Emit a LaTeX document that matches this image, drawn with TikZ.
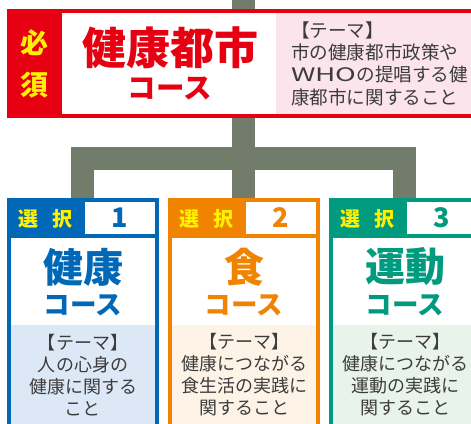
\documentclass[tikz,border=0pt]{standalone}
\usepackage{fontspec}
\usepackage{graphicx}
\newfontfamily\jp{Noto Sans CJK JP}
\newfontfamily\jpblk{Noto Sans CJK JP Black}
\definecolor{kred}{HTML}{E60012}
\definecolor{kyel}{HTML}{FFF100}
\definecolor{kblue}{HTML}{0068B7}
\definecolor{korange}{HTML}{F08300}
\definecolor{kteal}{HTML}{009B7E}
\definecolor{kgray}{HTML}{727C6A}
\definecolor{kpink}{HTML}{FCE4EC}
\definecolor{klblue}{HTML}{DDE8F6}
\definecolor{klorange}{HTML}{FDF4E7}
\definecolor{klgreen}{HTML}{E8F3EB}
\definecolor{ktext}{HTML}{3C3C3C}
\tikzset{
  conn/.style={draw=kgray, line width=23pt, miter limit=10},
  txt/.style={inner sep=0pt, outer sep=0pt},
  hissu/.style={txt, text=kyel, font=\jpblk\fontsize{28}{28}\selectfont},
  bigtitle/.style={txt, font=\jpblk\fontsize{44}{44}\selectfont},
  course/.style={txt, font=\jpblk\fontsize{28.5}{28.5}\selectfont},
  sentaku/.style={txt, text=kyel, font=\jpblk\fontsize{20}{20}\selectfont},
  numtxt/.style={txt, font=\jpblk\fontsize{27}{27}\selectfont},
  subtitle/.style={txt, font=\jpblk\fontsize{40}{40}\selectfont},
  subcourse/.style={txt, font=\jpblk\fontsize{26.5}{26.5}\selectfont},
  theme/.style={txt, text=ktext, font=\jp\fontsize{18}{22}\selectfont},
}
\begin{document}
\begin{tikzpicture}[x=1pt,y=-1pt]
\useasboundingbox (0,0) rectangle (471,423);
\clip (0,0) rectangle (471,423);
% connectors
\coordinate (trunktop) at (243.5,0);
\coordinate (b1top) at (82.5,200);
\coordinate (b2top) at (243.5,200);
\coordinate (b3top) at (404.5,200);
\coordinate (barL) at (82.5,158.5);
\coordinate (barR) at (404.5,158.5);
\draw[conn] (trunktop) -- (b2top);
\draw[conn] (b1top) -- (barL) -- (barR) -- (b3top);
% top box
\fill[kred] (7,9) rectangle (480,118);
\fill[white] (62,13) rectangle (276,114);
\fill[kpink] (276,13) rectangle (480,114);
\node[hissu] (hi) at (34.5,43) {必};
\node[hissu] (su) at (34.5,85) {須};
\node[bigtitle, text=kred] (kt) at (170,48) {健康都市};
\node[course, text=kred] (kc) at (170,88) {コース};
\node[theme, anchor=west, align=left, font=\jp\fontsize{18.6}{22.3}\selectfont] (ktheme) at (291,63.5) {【テーマ】\\市の健康都市政策や\\\scalebox{1.5}[1]{WHO}の提唱する健\\康都市に関すること};
% bottom boxes
\foreach \L/\c/\lc/\n/\t/\tl/\nm in {
  7/kblue/klblue/1/健康/{人の心身の\\健康に関する\\こと}/a,
  168/korange/klorange/2/食/{健康につながる\\食生活の実践に\\関すること}/b,
  329/kteal/klgreen/3/運動/{健康につながる\\運動の実践に\\関すること}/c}{
  \fill[\c] (\L,198) rectangle ({\L+152},430);
  \fill[white] ({\L+4},238) rectangle ({\L+148},325);
  \fill[\lc] ({\L+4},325) rectangle ({\L+148},430);
  \fill[white] ({\L+78},202) rectangle ({\L+148},234);
  \node[sentaku] (sen\nm) at ({\L+38.5},219) {選\hspace{0.7em}択};
  \node[numtxt, text=\c] (num\nm) at ({\L+113},218) {\n};
  \node[subtitle, text=\c] (title\nm) at ({\L+76},267) {\t};
  \node[subcourse, text=\c] (course\nm) at ({\L+76},305) {コース};
  \node[theme, align=center] (theme\nm) at ({\L+76},375) {【テーマ】\\\tl};
}
\end{tikzpicture}
\end{document}
